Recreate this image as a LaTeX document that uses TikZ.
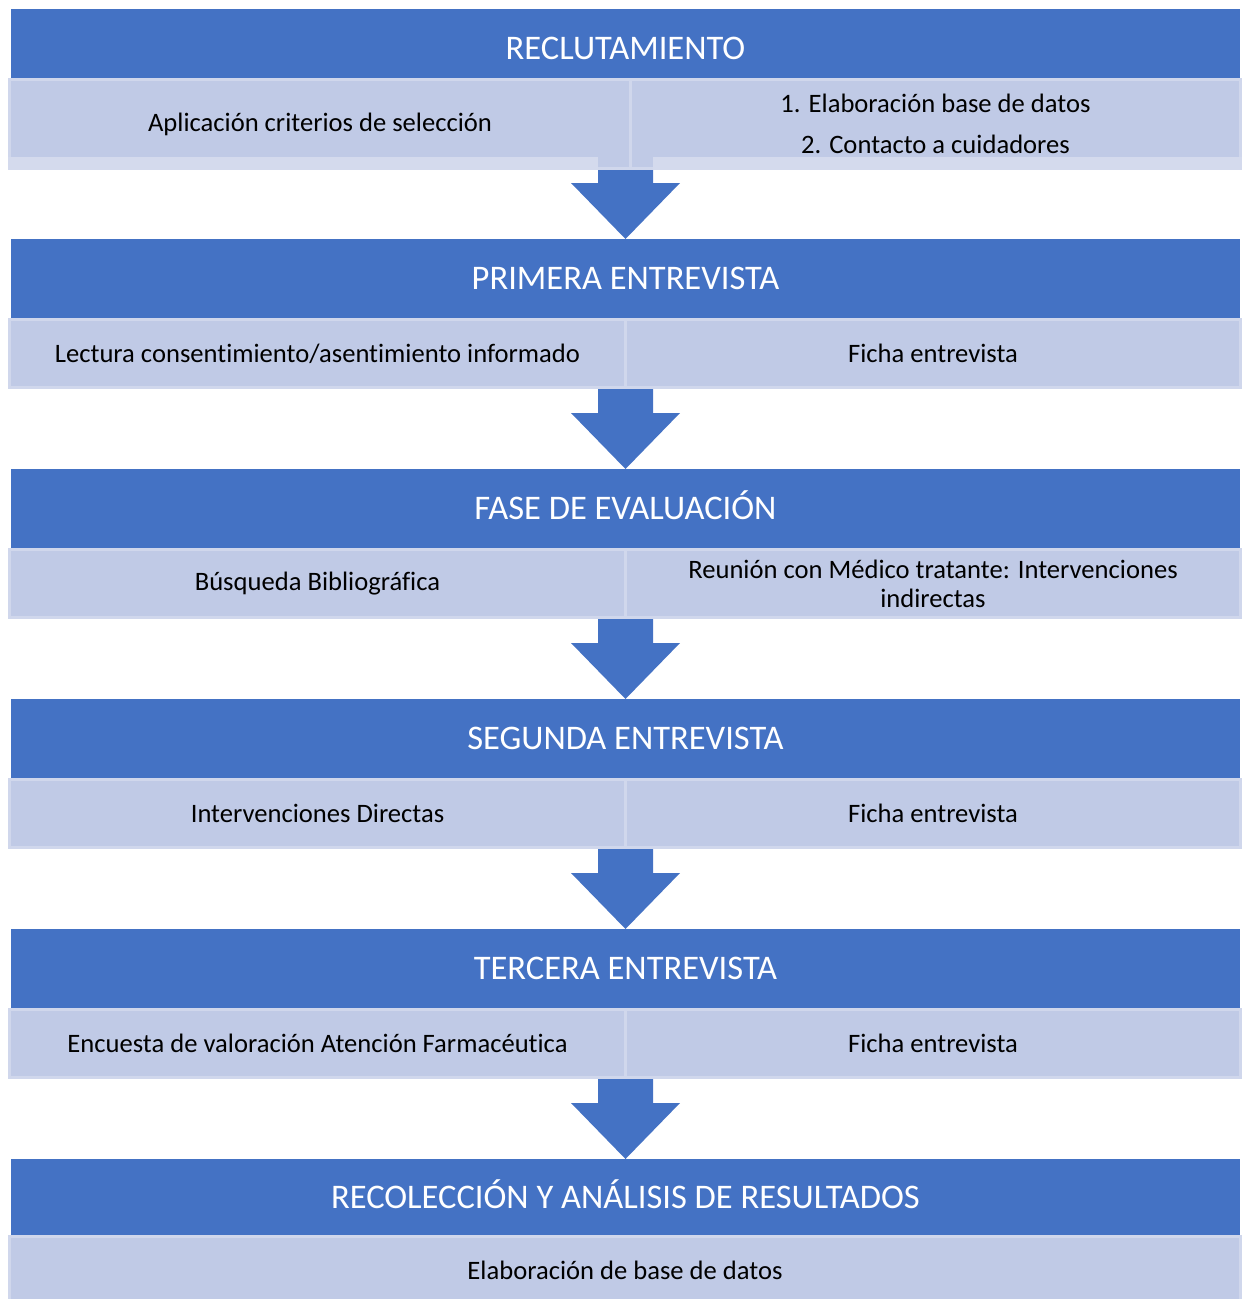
\documentclass[tikz,border=0pt]{standalone}
\usepackage{fontspec}
\setmainfont[Ligatures=NoCommon]{Carlito}
\usetikzlibrary{calc,backgrounds}
\definecolor{hblue}{RGB}{68,114,196}
\definecolor{cellfill}{RGB}{192,202,230}
\definecolor{cellline}{RGB}{208,215,236}
\definecolor{stripc}{RGB}{212,218,237}
\newcommand\flowarrow[2]{%
  \fill[hblue] let \p1=(#1), \p2=(#2) in
    (\x2-27.5pt,\y1) -- (\x2+27.5pt,\y1) -- (\x2+27.5pt,\y2+56pt) --
    (\x2+54.5pt,\y2+56pt) -- (\x2,\y2) -- (\x2-54.5pt,\y2+56pt) --
    (\x2-27.5pt,\y2+56pt) -- cycle;}
\begin{document}
\begin{tikzpicture}[x=1pt,y=-1pt,
  htext/.style={text=white,font=\fontsize{34.5}{40}\selectfont,inner sep=0pt,
    text height=22.5pt,text depth=0pt},
  header/.style={fill=hblue,htext,
    anchor=north west,outer sep=0pt,minimum width=1229pt,minimum height=79pt},
  cell/.style={fill=cellfill,draw=cellline,line width=3pt,anchor=north west,
    inner sep=0pt,outer sep=0pt,align=center,font=\fontsize{26.6}{32}\selectfont,
    minimum height=68pt},
  lcell/.style={cell,minimum width=616pt},
  rcell/.style={cell,minimum width=615pt}]
\useasboundingbox (0,0) rectangle (1243,1299);

% Section 1
\node[header,minimum height=69pt] (h1) at (11,9) {};
\path (h1.center) ++(0,5) node[htext] (t1) {RECLUTAMIENTO};
\node[cell,minimum width=621pt,minimum height=89pt] (c1l) at (9.5,79.5) {\raisebox{-4pt}{Aplicación criterios de selección}};
\node[cell,minimum width=610pt,minimum height=89pt] (c1r) at (630.5,79.5) {1. Elaboración base de datos\\[9pt]2. Contacto a cuidadores};
\fill[stripc] (8,157) rectangle (598,170);
\fill[stripc] (653,157) rectangle (1242,170);

% Section 2
\node[header] (h2) at (11,239) {PRIMERA ENTREVISTA};
\node[lcell] (c2l) at (9.5,319.5) {Lectura consentimiento/asentimiento informado};
\node[rcell] (c2r) at (625.5,319.5) {Ficha entrevista};

% Section 3
\node[header] (h3) at (11,469) {FASE DE EVALUACIÓN};
\node[lcell] (c3l) at (9.5,549.5) {Búsqueda Bibliográfica};
\node[rcell] (c3r) at (625.5,549.5) {Reunión con Médico tratante: Intervenciones\\[-3pt]indirectas};

% Section 4
\node[header] (h4) at (11,699) {SEGUNDA ENTREVISTA};
\node[lcell] (c4l) at (9.5,779.5) {Intervenciones Directas};
\node[rcell] (c4r) at (625.5,779.5) {Ficha entrevista};

% Section 5
\node[header] (h5) at (11,929) {TERCERA ENTREVISTA};
\node[lcell] (c5l) at (9.5,1009.5) {Encuesta de valoración Atención Farmacéutica};
\node[rcell] (c5r) at (625.5,1009.5) {Ficha entrevista};

% Section 6
\node[header,minimum height=76pt] (h6) at (11,1159) {RECOLECCIÓN Y ANÁLISIS DE RESULTADOS};
\node[cell,minimum width=1231pt,minimum height=68pt] (c6) at (9.5,1236.5) {Elaboración de base de datos};

\begin{pgfonlayer}{background}
  \flowarrow{c1l.south}{h2.north}
  \flowarrow{c2l.south}{h3.north}
  \flowarrow{c3l.south}{h4.north}
  \flowarrow{c4l.south}{h5.north}
  \flowarrow{c5l.south}{h6.north}
\end{pgfonlayer}
\end{tikzpicture}
\end{document}
